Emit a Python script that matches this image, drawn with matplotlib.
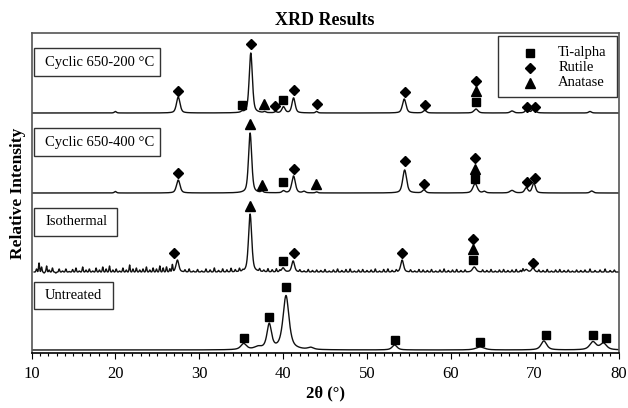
import numpy as np
import matplotlib
matplotlib.use("Agg")
import matplotlib.pyplot as plt
from matplotlib.patches import Rectangle

plt.rcParams["font.family"] = ["Liberation Serif", "DejaVu Serif"]

# ---- data (2theta in degrees, intensity in arbitrary units) ----
samples = ["Cyclic 650-200 °C", "Cyclic 650-400 °C", "Isothermal", "Untreated"]
offsets = [240, 160, 81, 3]

# peaks: position, height, fwhm
c200_pos = [20.0, 27.5, 35.1, 36.15, 37.8, 39.1, 40.05, 41.25, 44.0, 54.45, 56.9, 63.0, 67.3, 69.1, 69.9, 76.6]
c200_h   = [1.5, 16, 1.0, 60, 1.0, 1.0, 6, 15, 1.5, 14, 2.5, 4, 2, 4, 5, 1.5]
c200_w   = [0.3, 0.5, 0.3, 0.45, 0.3, 0.3, 0.45, 0.45, 0.3, 0.5, 0.45, 0.55, 0.5, 0.45, 0.45, 0.4]

c400_pos = [20.0, 27.5, 36.07, 37.5, 40.05, 41.25, 42.5, 44.0, 54.5, 56.8, 62.9, 64.0, 67.3, 69.0, 69.9, 76.8]
c400_h   = [1.5, 13, 60, 1.5, 2, 17, 1.5, 1, 23, 3, 9.5, 1.5, 2.5, 5, 10, 2]
c400_w   = [0.3, 0.5, 0.45, 0.3, 0.4, 0.5, 0.4, 0.3, 0.55, 0.45, 0.6, 0.4, 0.6, 0.45, 0.45, 0.45]

iso_pos = [27.4, 36.07, 40.0, 41.2, 54.2, 62.8, 69.0, 69.8]
iso_h   = [12, 58, 4, 11, 12, 5, 2.5, 4]
iso_w   = [0.4, 0.45, 0.4, 0.4, 0.4, 0.5, 0.4, 0.4]

# isothermal background jitter (small spikes)
iso_noise_x = [10.6, 10.9, 11.2, 11.5, 11.8, 12.1, 12.5, 12.9, 13.3, 13.7, 14.1, 14.5, 14.9, 15.3,
               15.7, 16.1, 16.5, 16.9, 17.3, 17.7, 18.1, 18.5, 18.9, 19.3, 19.7, 20.1, 20.5, 20.9,
               21.3, 21.7, 22.1, 22.5, 22.9, 23.3, 23.7, 24.1, 24.5, 24.9, 25.3, 25.7, 26.1, 26.5,
               26.8, 28.3, 28.8, 29.3, 29.8, 30.3, 30.8, 31.3, 31.8, 32.3, 32.8, 33.3, 33.8, 34.3,
               34.8, 35.2, 37.2, 37.7, 38.2, 38.7, 39.2, 39.6, 42.0, 42.5, 43.0, 43.5, 44.0, 44.5,
               45.0, 45.5, 46.0, 46.5, 47.0, 47.5, 48.0, 48.5, 49.0, 49.5, 50.0, 50.5, 51.0, 51.5,
               52.0, 52.5, 53.0, 53.5, 55.2, 55.7, 56.2, 56.7, 57.2, 57.7, 58.2, 58.7, 59.2, 59.7,
               60.2, 60.7, 61.2, 61.7, 63.8, 64.3, 64.8, 65.3, 65.8, 66.3, 66.8, 67.3, 67.8, 68.3,
               68.6, 70.5, 71.0, 71.5, 72.0, 72.5, 73.0, 73.5, 74.0, 74.5, 75.0, 75.5, 76.0, 76.6,
               77.2, 77.8, 78.4, 79.0, 79.5]
iso_noise_h = [3, 9, 5, -1, 6, 2, 4, -1, 3, 1, 3, 0.5, 2.5, 4,
               1, 5, 2, 3, 1, 4, 2, 5, 3, 6, 2, 3, 1, 4,
               2, 7, 3, 4, 2, 3, 5, 2, 4, 3, 6, 4, 5, 3,
               7, 2, 3, 1, 2.5, 1, 3, 2, 4, 1.5, 3, 2, 3.5, 2,
               3, 1, 2.5, 1.5, 3, 2, 3, 1.5, 2, 1, 2.5, 1.5, 2, 1.5,
               2.5, 1, 2, 3, 1.5, 2.5, 3, 1, 2, 2.5, 1.5, 2, 3, 1,
               2.5, 3, 1.5, 2, 2, 1, 2.5, 2, 1.5, 2.5, 1, 2, 3, 1.5,
               2, 2.5, 1.5, 2, 2, 1.5, 2.5, 1, 2, 2.5, 1.5, 2, 2.5, 1.5,
               3, 2, 1.5, 2.5, 1, 2, 2.5, 1.5, 2, 1, 2, 1.5, 2, 3,
               1.5, 2, 3, 1.5, 2]

unt_pos = [35.3, 37.0, 38.35, 40.35, 43.3, 53.3, 63.5, 71.1, 76.95, 78.2]
unt_h   = [6, 2.5, 25, 54, 2, 5, 3, 9, 8, 6.5]
unt_w   = [0.8, 1.0, 0.65, 0.85, 0.8, 0.7, 1.2, 0.8, 0.9, 0.9]

# phase markers: position, height above the trace baseline, phase
c200_mk = [(27.5, 22, "R"), (36.15, 69, "R"), (35.1, 8, "T"), (37.75, 9, "A"), (39.05, 7, "R"),
           (40.05, 13, "T"), (41.25, 23, "R"), (44.0, 8.7, "R"), (54.5, 21.3, "R"), (56.9, 8.3, "R"),
           (63.05, 32.3, "R"), (63.05, 21.7, "A"), (63.05, 11.3, "T"), (69.1, 6.3, "R"), (70.1, 6.3, "R")]
c400_mk = [(27.5, 19.7, "R"), (36.07, 68.7, "A"), (37.5, 8, "A"), (40.05, 11.3, "T"), (41.25, 23.7, "R"),
           (43.95, 9, "A"), (54.5, 32.3, "R"), (56.8, 9.3, "R"), (62.9, 34.7, "R"), (62.9, 23.7, "A"),
           (62.9, 14, "T"), (69.1, 10.7, "R"), (70.1, 14.7, "R")]
iso_mk = [(27.05, 19.3, "R"), (36.07, 66, "A"), (40.0, 11.3, "T"), (41.25, 19.3, "R"), (54.2, 19.3, "R"),
          (62.7, 32.7, "R"), (62.7, 22.7, "A"), (62.7, 12, "T"), (69.8, 9.3, "R")]
unt_mk = [(35.3, 11.7, "T"), (38.3, 32.7, "T"), (40.3, 62.7, "T"), (53.3, 10, "T"), (63.5, 7.7, "T"),
          (71.3, 15, "T"), (77.0, 15, "T"), (78.5, 12, "T")]

phases = {"T": ("Ti-alpha", "s", 6), "R": ("Rutile", "D", 5), "A": ("Anatase", "^", 6.5)}


def pattern(x, pos, h, w, eta=0.5):
    y = np.zeros_like(x)
    for p, a, f in zip(pos, h, w):
        g = np.exp(-4 * np.log(2) * ((x - p) / f) ** 2)
        l = 1 / (1 + 4 * ((x - p) / f) ** 2)
        y += a * (eta * l + (1 - eta) * g)
    return y


x = np.arange(10.0, 80.0001, 0.02)
xi = x[x >= 10.3]
traces = [
    (x, pattern(x, c200_pos, c200_h, c200_w)),
    (x, pattern(x, c400_pos, c400_h, c400_w)),
    (xi, pattern(xi, iso_pos, iso_h, iso_w) + pattern(xi, iso_noise_x, iso_noise_h,
                                                       [0.14] * len(iso_noise_x), eta=0.0)),
    (x, pattern(x, unt_pos, unt_h, unt_w, eta=0.7)),
]
markers = [c200_mk, c400_mk, iso_mk, unt_mk]

fig = plt.figure(figsize=(6.28, 4.08), dpi=100)
ax = fig.add_axes([31.5 / 628, 55 / 408, 587 / 628, 320 / 408])

for (xx, yy), off, mk in zip(traces, offsets, markers):
    ax.plot(xx, yy + off, color="#111111", lw=1.0)
    for key, (name, m, ms) in phases.items():
        pts = [(p, hgt) for p, hgt, k in mk if k == key]
        if pts:
            ax.plot([p for p, _ in pts], [hgt + off for _, hgt in pts], ls="none",
                    marker=m, ms=ms, color="black")

# sample label boxes (axes-fraction layout)
boxes = [(0.0044, 0.8656, 0.2147, 0.0875), (0.0044, 0.6156, 0.2147, 0.0875),
         (0.0044, 0.3656, 0.1409, 0.0884), (0.0044, 0.1375, 0.1346, 0.0853)]
for (bx, by, bw, bh), name in zip(boxes, samples):
    ax.add_patch(Rectangle((bx, by), bw, bh, transform=ax.transAxes, fill=False,
                           edgecolor="#333333", lw=1.0))
    ax.text(bx + 0.0187, by + bh / 2, name, transform=ax.transAxes, ha="left", va="center",
            fontsize=10.5)

# legend
ax.add_patch(Rectangle((0.7942, 0.8003), 0.2037, 0.1906, transform=ax.transAxes, fill=False,
                       edgecolor="#333333", lw=1.0))
for i, key in enumerate(["T", "R", "A"]):
    name, m, ms = phases[key]
    yy = 0.9385 - i * 0.0469
    ax.plot([0.849], [yy], transform=ax.transAxes, marker=m, ms=ms, color="black", ls="none")
    ax.text(0.8973, yy, name, transform=ax.transAxes, ha="left", va="center", fontsize=10.5)

ax.set_xlim(10, 80)
ax.set_ylim(0, 320)
ax.set_yticks([])
ax.set_xticks(np.arange(10, 81, 10))
ax.set_xticks(np.arange(10, 81, 1), minor=True)
ax.tick_params(axis="x", which="major", direction="out", length=4, width=0.8, labelsize=12, pad=5)
ax.tick_params(axis="x", which="minor", direction="out", length=2.5, width=0.8)
for s in ax.spines.values():
    s.set_color("#555555")
    s.set_linewidth(1.2)
ax.spines["bottom"].set_color("black")

ax.set_xlabel("2θ (°)", fontsize=12, fontweight="bold", labelpad=3)
ax.set_ylabel("Relative Intensity", fontsize=12.5, fontweight="bold", labelpad=4)
ax.set_title("XRD Results", fontsize=13, fontweight="bold", pad=6)

fig.savefig("out.png", dpi=100)
